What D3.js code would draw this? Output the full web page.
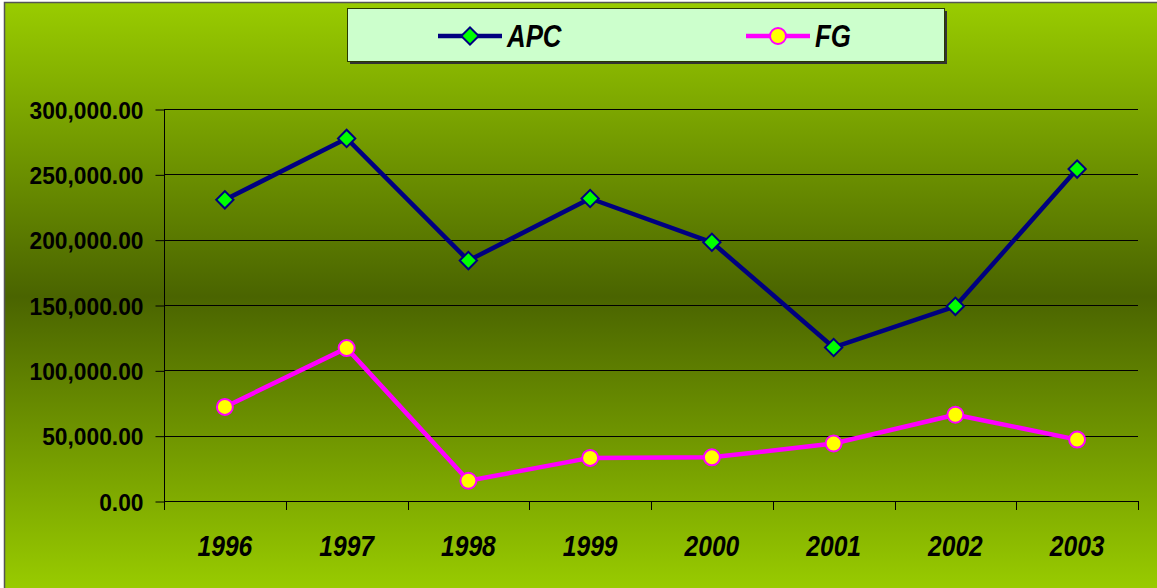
<!DOCTYPE html>
<html lang="en">
<head>
<meta charset="UTF-8">
<title>APC / FG</title>
<style>
    html, body { margin: 0; padding: 0; background: #fff; }
    svg { display: block; }
    text { font-family: "Liberation Sans", Arial, sans-serif; font-weight: bold; fill: #000; }
</style>
</head>
<body>
<svg id="CHART"></svg>
<script src="https://cdnjs.cloudflare.com/ajax/libs/d3/7.8.5/d3.min.js"></script>
<script>
// data
const years = ["1996", "1997", "1998", "1999", "2000", "2001", "2002", "2003"];
const apc = [230500, 277500, 184000, 231500, 198000, 117500, 149000, 254000];
const fg = [72000, 117000, 15500, 33000, 33400, 44000, 66000, 47000];
const yTicks = [0, 50000, 100000, 150000, 200000, 250000, 300000];
const seriesNames = ["APC", "FG"];

const width = 1157, height = 588;
const plot = { left: 164, right: 1138, top: 109, bottom: 501 };

const svg = d3.select("#CHART")
    .attr("width", width)
    .attr("height", height);

// background gradient
const defs = svg.append("defs");
const grad = defs.append("linearGradient")
    .attr("id", "bg").attr("x1", 0).attr("y1", 0).attr("x2", 0).attr("y2", 1);
grad.append("stop").attr("offset", "0%").attr("stop-color", "#99cc00");
grad.append("stop").attr("offset", "50%").attr("stop-color", "#4a6400");
grad.append("stop").attr("offset", "100%").attr("stop-color", "#99cc00");

svg.append("rect")
    .attr("x", 4.5).attr("y", 2.5)
    .attr("width", width).attr("height", height)
    .attr("fill", "url(#bg)")
    .attr("stroke", "#555").attr("stroke-width", 1.5);

const x = d3.scaleBand().domain(years).range([plot.left, plot.right]);
const y = d3.scaleLinear().domain([0, 300000]).range([plot.bottom, plot.top]);

// gridlines
svg.append("g")
    .selectAll("line")
    .data(yTicks.filter(d => d > 0))
    .join("line")
    .attr("x1", plot.left).attr("x2", plot.right)
    .attr("y1", d => Math.round(y(d)) + 0.5).attr("y2", d => Math.round(y(d)) + 0.5)
    .attr("stroke", "#000").attr("stroke-width", 1.2);

// y axis
const fmt = d3.format(",.2f");
const yAxis = svg.append("g")
    .attr("transform", `translate(${plot.left + 0.5},0.5)`)
    .call(d3.axisLeft(y).tickValues(yTicks).tickFormat(fmt).tickSize(9).tickSizeOuter(0));
yAxis.select(".domain").attr("stroke", "#000").attr("d", `M0,${plot.top}V${plot.bottom + 8}`);
yAxis.selectAll(".tick line").attr("stroke", "#000");
yAxis.selectAll(".tick text")
    .attr("font-size", 24)
    .attr("font-family", "'Liberation Sans', Arial, sans-serif")
    .attr("font-weight", "bold")
    .attr("fill", "#000")
    .attr("transform", "scale(0.95,1.02)")
    .attr("x", -21 / 0.95)
    .attr("dy", "0.36em");

// x axis: ticks at category boundaries
const xg = svg.append("g");
xg.append("line")
    .attr("x1", plot.left).attr("x2", plot.right)
    .attr("y1", plot.bottom + 0.5).attr("y2", plot.bottom + 0.5)
    .attr("stroke", "#000").attr("stroke-width", 1.2);
const bounds = years.map(d => x(d)).concat([plot.right]);
xg.selectAll("line.tk")
    .data(bounds)
    .join("line")
    .attr("class", "tk")
    .attr("x1", d => Math.round(d) + 0.5).attr("x2", d => Math.round(d) + 0.5)
    .attr("y1", plot.bottom).attr("y2", plot.bottom + 9)
    .attr("stroke", "#000");
xg.selectAll("text")
    .data(years)
    .join("text")
    .attr("transform", d => `translate(${x(d) + x.bandwidth() / 2},556) scale(0.82,1)`)
    .attr("text-anchor", "middle")
    .attr("font-size", 30)
    .attr("font-style", "italic")
    .text(d => d);

// series
const cx = d => x(d) + x.bandwidth() / 2;
const line = d3.line().x((v, i) => cx(years[i])).y(v => y(v));

svg.append("path")
    .datum(apc)
    .attr("d", line)
    .attr("fill", "none").attr("stroke", "#000080").attr("stroke-width", 4.5)
    .attr("stroke-linejoin", "round");

svg.append("path")
    .datum(fg)
    .attr("d", line)
    .attr("fill", "none").attr("stroke", "#ff00ff").attr("stroke-width", 4.5)
    .attr("stroke-linejoin", "round");

const diamond = d3.symbol().type(d3.symbolSquare).size(150);

svg.append("g")
    .selectAll("path")
    .data(apc)
    .join("path")
    .attr("d", diamond)
    .attr("transform", (v, i) => `translate(${cx(years[i])},${y(v)}) rotate(45)`)
    .attr("fill", "#00ff00").attr("stroke", "#000080").attr("stroke-width", 2);

svg.append("g")
    .selectAll("circle")
    .data(fg)
    .join("circle")
    .attr("cx", (v, i) => cx(years[i]))
    .attr("cy", v => y(v))
    .attr("r", 8)
    .attr("fill", "#ffff00").attr("stroke", "#ff00ff").attr("stroke-width", 2);

// legend
const legend = svg.append("g");
legend.append("rect")
    .attr("x", 350).attr("y", 11).attr("width", 597).attr("height", 53)
    .attr("fill", "#333");
legend.append("rect")
    .attr("x", 347.5).attr("y", 8.5).attr("width", 597).attr("height", 53)
    .attr("fill", "#ccffcc").attr("stroke", "#2a3a00").attr("stroke-width", 1);

const legendItems = [
    { name: seriesNames[0], x0: 438, stroke: "#000080", marker: "diamond" },
    { name: seriesNames[1], x0: 746, stroke: "#ff00ff", marker: "circle" }
];
legendItems.forEach(it => {
    const g = legend.append("g").attr("transform", `translate(${it.x0},36)`);
    g.append("line").attr("x1", 0).attr("x2", 64).attr("stroke", it.stroke).attr("stroke-width", 4.5);
    if (it.marker === "diamond") {
        g.append("path").attr("d", diamond).attr("transform", "translate(32,0) rotate(45)")
            .attr("fill", "#00ff00").attr("stroke", "#000080").attr("stroke-width", 2);
    } else {
        g.append("circle").attr("cx", 32).attr("r", 8)
            .attr("fill", "#ffff00").attr("stroke", "#ff00ff").attr("stroke-width", 2);
    }
    g.append("text")
        .attr("transform", "translate(69,11) scale(0.86,1.05)")
        .attr("font-size", 30)
        .attr("font-style", "italic")
        .text(it.name);
});
</script>
</body>
</html>
